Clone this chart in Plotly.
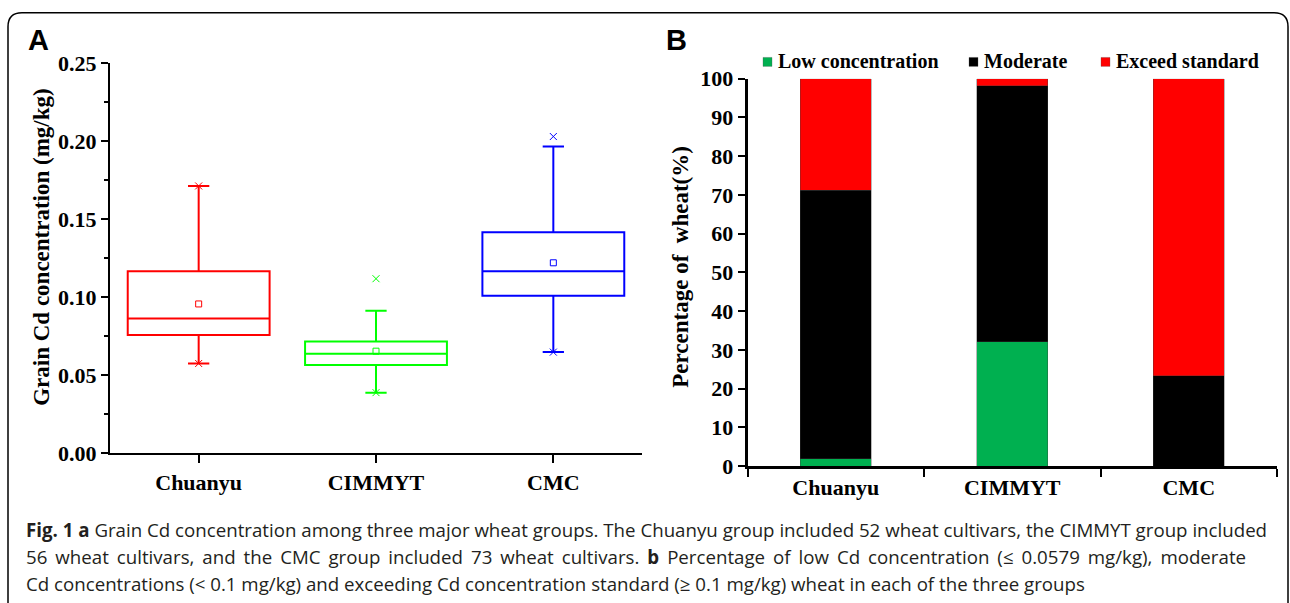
import plotly.graph_objects as go

# ---------------- data ----------------
groups = ["Chuanyu", "CIMMYT", "CMC"]
box_colors = ["#FF0000", "#00FF00", "#0000FF"]
q1 = [0.0757, 0.0565, 0.1010]
median = [0.0863, 0.0637, 0.1166]
q3 = [0.1166, 0.0716, 0.1417]
lower_whisker = [0.0575, 0.0388, 0.0648]
upper_whisker = [0.1714, 0.0914, 0.1967]
mean = [0.0957, 0.0654, 0.1221]
minimum = [0.0575, 0.0388, 0.0648]
maximum = [0.1714, 0.1119, 0.2031]

a_yticks = [0.00, 0.05, 0.10, 0.15, 0.20, 0.25]
a_yticklabels = ["0.00", "0.05", "0.10", "0.15", "0.20", "0.25"]

series_names = ["Low concentration", "Moderate", "Exceed standard"]
series_colors = ["#00B050", "#000000", "#FF0000"]
low = [1.92, 32.14, 0.0]
moderate = [69.23, 66.07, 23.29]
exceed = [28.85, 1.79, 76.71]
b_yticks = [0, 10, 20, 30, 40, 50, 60, 70, 80, 90, 100]

TS = "\u2009"  # thin space used to spread the justified second caption line
caption_lines = [
    "<b>Fig. 1 a</b> Grain Cd concentration among three major wheat groups. The Chuanyu group included 52 wheat cultivars, the CIMMYT group included",
    ("56 wheat cultivars, and the CMC group included 73 wheat cultivars. <b>b</b> Percentage of low Cd concentration (≤ 0.0579 mg/kg), moderate").replace(" ", " " + TS),
    "Cd concentrations (< 0.1 mg/kg) and exceeding Cd concentration standard (≥ 0.1 mg/kg) wheat in each of the three groups",
]

W, H = 1290, 603
def px(x):
    return x / W
def py(y):
    # vertical pixel position -> paper fraction (calibrated to the rendered page)
    yy = (y - 11.42) / 0.9617
    return 1 - yy / H

SERIF = "Liberation Serif, Times New Roman, serif"

fig = go.Figure()

# ---------------- Panel A: box plot ----------------
for i, g in enumerate(groups):
    fig.add_trace(go.Box(
        x=[g], q1=[q1[i]], median=[median[i]], q3=[q3[i]],
        lowerfence=[lower_whisker[i]], upperfence=[upper_whisker[i]],
        boxpoints=False, width=0.8, whiskerwidth=0.15,
        line=dict(color=box_colors[i], width=2),
        fillcolor="rgba(255,255,255,0)",
        xaxis="x", yaxis="y", showlegend=False, hoverinfo="skip",
    ))
fig.add_trace(go.Scatter(
    x=groups, y=mean, mode="markers", xaxis="x", yaxis="y",
    marker=dict(symbol="square-open", size=6, color=box_colors, line=dict(width=1)),
    showlegend=False, hoverinfo="skip",
))
fig.add_trace(go.Scatter(
    x=groups + groups, y=minimum + maximum, mode="markers", xaxis="x", yaxis="y",
    marker=dict(symbol="x-thin", size=7, color=box_colors + box_colors,
                line=dict(width=1, color=box_colors + box_colors)),
    showlegend=False, hoverinfo="skip",
))

# ---------------- Panel B: stacked bars ----------------
for name, col, vals in zip(series_names, series_colors, [low, moderate, exceed]):
    fig.add_trace(go.Bar(
        x=groups, y=vals, name=name, width=0.4,
        marker=dict(color=col, line=dict(color="rgba(60,60,60,0.6)", width=0.6)),
        xaxis="x2", yaxis="y2", showlegend=False, hoverinfo="skip",
    ))

axis_font = dict(family=SERIF, size=22, color="black", weight="bold")

fig.update_layout(
    width=W, height=H,
    margin=dict(l=0, r=0, t=0, b=0),
    paper_bgcolor="white", plot_bgcolor="white",
    barmode="stack", boxmode="overlay",
    showlegend=False,
    xaxis=dict(
        domain=[px(110), px(642)], anchor="y",
        type="category", range=[-0.5, 2.5],
        showline=True, linecolor="black", linewidth=2,
        ticks="outside", ticklen=8, tickwidth=2, tickcolor="black",
        tickfont=axis_font, showgrid=False, zeroline=False,
    ),
    yaxis=dict(
        domain=[py(454), py(63)], anchor="x",
        range=[0, 0.25], tickvals=a_yticks, ticktext=a_yticklabels,
        showline=True, linecolor="black", linewidth=2,
        ticks="outside", ticklen=7, tickwidth=2, tickcolor="black",
        minor=dict(dtick=0.025, ticks="outside", ticklen=4, tickwidth=1.5, tickcolor="black"),
        tickfont=axis_font, showgrid=False, zeroline=False,
    ),
    xaxis2=dict(
        domain=[px(747.5), px(1277)], anchor="y2",
        type="category", range=[-0.5, 2.5], tickson="boundaries",
        showline=True, linecolor="black", linewidth=2.5,
        ticks="outside", ticklen=8, tickwidth=2, tickcolor="black",
        tickfont=dict(family=SERIF, size=22, color="black", weight="bold"),
        showgrid=False, zeroline=False,
    ),
    yaxis2=dict(
        domain=[py(467), py(78.3)], anchor="x2",
        range=[0, 100], tickvals=b_yticks,
        showline=True, linecolor="black", linewidth=2.5,
        ticks="outside", ticklen=7, tickwidth=2, tickcolor="black",
        tickfont=dict(family=SERIF, size=22, color="black", weight="bold"),
        showgrid=False, zeroline=False,
    ),
)

annotations = []
shapes = []

# axis titles
annotations.append(dict(
    text="Grain Cd concentration (mg/kg)", x=px(42), y=py(247), xref="paper", yref="paper",
    xanchor="center", yanchor="middle", textangle=-90, showarrow=False,
    font=dict(family=SERIF, size=23, color="black", weight="bold"),
))
annotations.append(dict(
    text="Percentage of&nbsp; wheat(%)", x=px(681), y=py(267), xref="paper", yref="paper",
    xanchor="center", yanchor="middle", textangle=-90, showarrow=False,
    font=dict(family=SERIF, size=23, color="black", weight="bold"),
))

# panel labels
for lab, xx in [("A", 26), ("B", 664)]:
    annotations.append(dict(
        text="<b>%s</b>" % lab, x=px(xx), y=py(40), xref="paper", yref="paper",
        xanchor="left", yanchor="middle", showarrow=False,
        font=dict(family="Liberation Sans, Arial, sans-serif", size=29, color="black"),
    ))

# legend for panel B
legend_x = [767, 973, 1105]
for name, col, lx in zip(series_names, series_colors, legend_x):
    shapes.append(dict(
        type="rect", xref="paper", yref="paper",
        x0=px(lx - 4), x1=px(lx + 5), y0=py(66), y1=py(57),
        fillcolor=col, line=dict(color="rgba(80,80,80,0.6)", width=0.5),
    ))
    annotations.append(dict(
        text=name, x=px(lx + 9), y=py(61), xref="paper", yref="paper",
        xanchor="left", yanchor="middle", showarrow=False,
        font=dict(family=SERIF, size=20, color="black", weight="bold"),
    ))

# caption
for line, yy in zip(caption_lines, [531, 558, 585]):
    annotations.append(dict(
        text=line, x=px(24), y=py(yy), xref="paper", yref="paper",
        xanchor="left", yanchor="middle", showarrow=False,
        font=dict(family="Open Sans, sans-serif", size=18.7, color="#231F20"),
    ))

# outer frame with rounded top corners
r = 14
x0, x1, y0, y1 = 8, 1288, 12.2, 660
path = (f"M {px(x0)},{py(y1)} L {px(x0)},{py(y0 + r)} "
        f"Q {px(x0)},{py(y0)} {px(x0 + r)},{py(y0)} "
        f"L {px(x1 - r)},{py(y0)} Q {px(x1)},{py(y0)} {px(x1)},{py(y0 + r)} "
        f"L {px(x1)},{py(y1)}")
shapes.append(dict(type="path", xref="paper", yref="paper", path=path,
                   line=dict(color="black", width=1.5)))

fig.update_layout(annotations=annotations, shapes=shapes)

fig.write_html("out.html")
